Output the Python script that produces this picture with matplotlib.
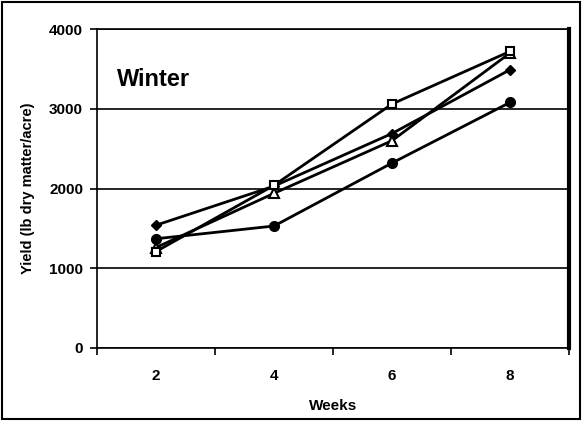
import matplotlib.pyplot as plt
import numpy as np

plt.rcParams['font.family'] = ['Liberation Sans', 'DejaVu Sans']

weeks = ["2", "4", "6", "8"]
diamond = [1540, 2030, 2690, 3490]
circle = [1370, 1530, 2320, 3080]
square = [1210, 2040, 3060, 3720]
triangle = [1260, 1940, 2600, 3700]

fig = plt.figure(figsize=(5.82, 4.21), dpi=100)
ax = fig.add_axes([0.1667, 0.1734, 0.811, 0.7576])

x = np.arange(len(weeks))
kw = dict(color="black", lw=2.0)
ax.plot(x, diamond, marker="D", ms=5, mfc="black", **kw)
ax.plot(x, circle, marker="o", ms=7, mfc="black", **kw)
ax.plot(x, triangle, marker="^", ms=7, mfc="white", mew=1.5, **kw)
ax.plot(x, square, marker="s", ms=6, mfc="white", mew=1.5, **kw)

ax.set_xlim(-0.5, 3.5)
ax.set_ylim(0, 4000)
ax.set_yticks([0, 1000, 2000, 3000, 4000])
ax.set_xticks(x)
ax.set_xticklabels(weeks)
ax.set_xticks(np.arange(-0.5, 4.0, 1.0), minor=True)
ax.tick_params(axis="x", which="major", length=0, pad=15)
ax.tick_params(axis="x", which="minor", length=5, width=1.2, direction="out")
ax.tick_params(axis="y", length=5, width=1.2, direction="out", pad=5)
for lab in ax.get_xticklabels() + ax.get_yticklabels():
    lab.set_fontweight("bold")
    lab.set_fontsize(11)

ax.grid(axis="y", color="black", lw=1.2)
ax.set_axisbelow(True)
for s in ["left", "bottom", "top"]:
    ax.spines[s].set_linewidth(1.2)
ax.spines["right"].set_linewidth(3)

ax.set_xlabel("Weeks", fontweight="bold", fontsize=11, labelpad=12)
ax.set_ylabel("Yield (lb dry matter/acre)", fontweight="bold", fontsize=10.5, labelpad=10)
ax.text(0.043, 0.82, "Winter", transform=ax.transAxes, fontsize=17, fontweight="bold")

fig.patches.append(plt.Rectangle((0.003, 0.004), 0.993, 0.992, transform=fig.transFigure,
                                 fill=False, lw=1.5, ec="black"))

fig.savefig("out.png", dpi=100)
